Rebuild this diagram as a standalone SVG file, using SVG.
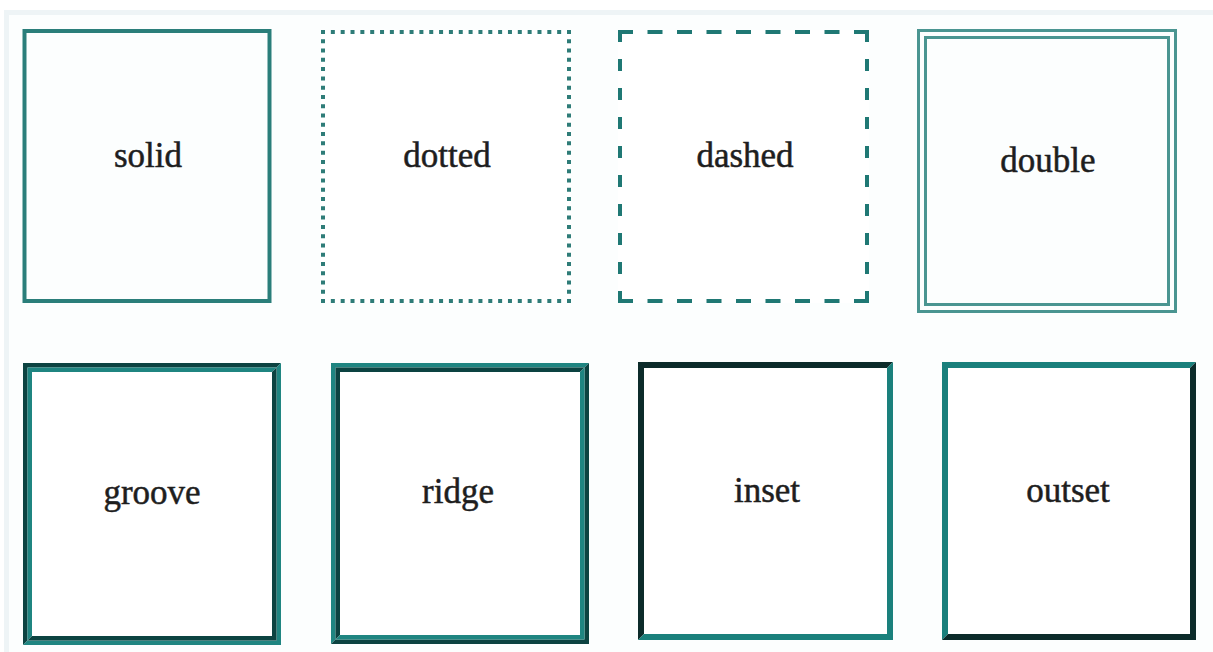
<svg xmlns="http://www.w3.org/2000/svg" width="1213" height="652" viewBox="0 0 1213 652">
<style>
  .lbl { font-family: "Liberation Serif", "Times New Roman", serif; font-size: 35px; fill: #1e1e1e; stroke: #1e1e1e; stroke-width: 0.5; text-anchor: middle; }
  .teal { fill: none; stroke: #2a7e7a; stroke-width: 4; }
  .dbl { fill: none; stroke: #4a9591; stroke-width: 3; }
  .dk { fill: #0c4341; }
  .lt { fill: #1f8581; }
  .idk { fill: #0c2b2a; }
  .ilt { fill: #1a807c; }
</style>
<rect x="0" y="0" width="1213" height="652" fill="#ffffff"/>
<rect x="4" y="10" width="1209" height="642" fill="#eef4f6"/>
<rect x="9" y="15" width="1204" height="637" fill="#fcfefe"/>

<g id="solid">
  <rect x="24.5" y="31" width="245" height="270" fill="#ffffff" class="teal"/>
  <text class="lbl" x="148" y="167">solid</text>
</g>

<g id="dotted">
  <rect x="321" y="30" width="250" height="273" fill="#ffffff"/>
  <line x1="321" y1="32" x2="571" y2="32" stroke="#2e7c78" stroke-width="4" stroke-dasharray="4 5.84"/>
  <line x1="321" y1="301" x2="571" y2="301" stroke="#2e7c78" stroke-width="4" stroke-dasharray="4 5.84"/>
  <line x1="323" y1="30" x2="323" y2="303" stroke="#2e7c78" stroke-width="4" stroke-dasharray="4 5.28"/>
  <line x1="569" y1="30" x2="569" y2="303" stroke="#2e7c78" stroke-width="4" stroke-dasharray="4 5.28"/>
  <text class="lbl" x="447" y="167">dotted</text>
</g>

<g id="dashed">
  <rect x="618" y="30" width="251" height="273" fill="#ffffff"/>
  <line x1="618" y1="32" x2="869" y2="32" stroke="#1f7874" stroke-width="4" stroke-dasharray="15 14.5"/>
  <line x1="618" y1="301" x2="869" y2="301" stroke="#1f7874" stroke-width="4" stroke-dasharray="15 14.5"/>
  <line x1="620" y1="30" x2="620" y2="303" stroke="#1f7874" stroke-width="4" stroke-dasharray="12 17"/>
  <line x1="867" y1="30" x2="867" y2="303" stroke="#1f7874" stroke-width="4" stroke-dasharray="12 17"/>
  <text class="lbl" x="745" y="167">dashed</text>
</g>

<g id="double">
  <rect x="918.5" y="30.5" width="257" height="281" fill="#ffffff" class="dbl"/>
  <rect x="925.5" y="37.5" width="243" height="267" class="dbl"/>
  <text class="lbl" x="1048" y="172">double</text>
</g>

<g id="groove">
  <rect x="23" y="363" width="258" height="282" fill="#ffffff"/>
  <polygon class="dk" points="23,363 281,363 276.5,367.5 27.5,367.5 27.5,640.5 23,645"/>
  <polygon class="lt" points="281,363 281,645 23,645 27.5,640.5 276.5,640.5 276.5,367.5"/>
  <polygon class="lt" points="27.5,367.5 276.5,367.5 272,372 32,372 32,636 27.5,640.5"/>
  <polygon class="dk" points="276.5,367.5 276.5,640.5 27.5,640.5 32,636 272,636 272,372"/>
  <text class="lbl" x="152" y="504">groove</text>
</g>

<g id="ridge">
  <rect x="331" y="363" width="258" height="281" fill="#ffffff"/>
  <polygon class="lt" points="331,363 589,363 584.5,367.5 335.5,367.5 335.5,639.5 331,644"/>
  <polygon class="dk" points="589,363 589,644 331,644 335.5,639.5 584.5,639.5 584.5,367.5"/>
  <polygon class="dk" points="335.5,367.5 584.5,367.5 580,372 340,372 340,635 335.5,639.5"/>
  <polygon class="lt" points="584.5,367.5 584.5,639.5 335.5,639.5 340,635 580,635 580,372"/>
  <text class="lbl" x="458" y="503">ridge</text>
</g>

<g id="inset">
  <rect x="638" y="362" width="255" height="278" fill="#ffffff"/>
  <polygon class="idk" points="638,362 893,362 887,368 644,368 644,634 638,640"/>
  <polygon class="ilt" points="893,362 893,640 638,640 644,634 887,634 887,368"/>
  <text class="lbl" x="767" y="502">inset</text>
</g>

<g id="outset">
  <rect x="942" y="362" width="254" height="278" fill="#ffffff"/>
  <polygon class="ilt" points="942,362 1196,362 1190,368 948,368 948,634 942,640"/>
  <polygon class="idk" points="1196,362 1196,640 942,640 948,634 1190,634 1190,368"/>
  <text class="lbl" x="1068" y="502">outset</text>
</g>

<g id="connectors"/>
</svg>
